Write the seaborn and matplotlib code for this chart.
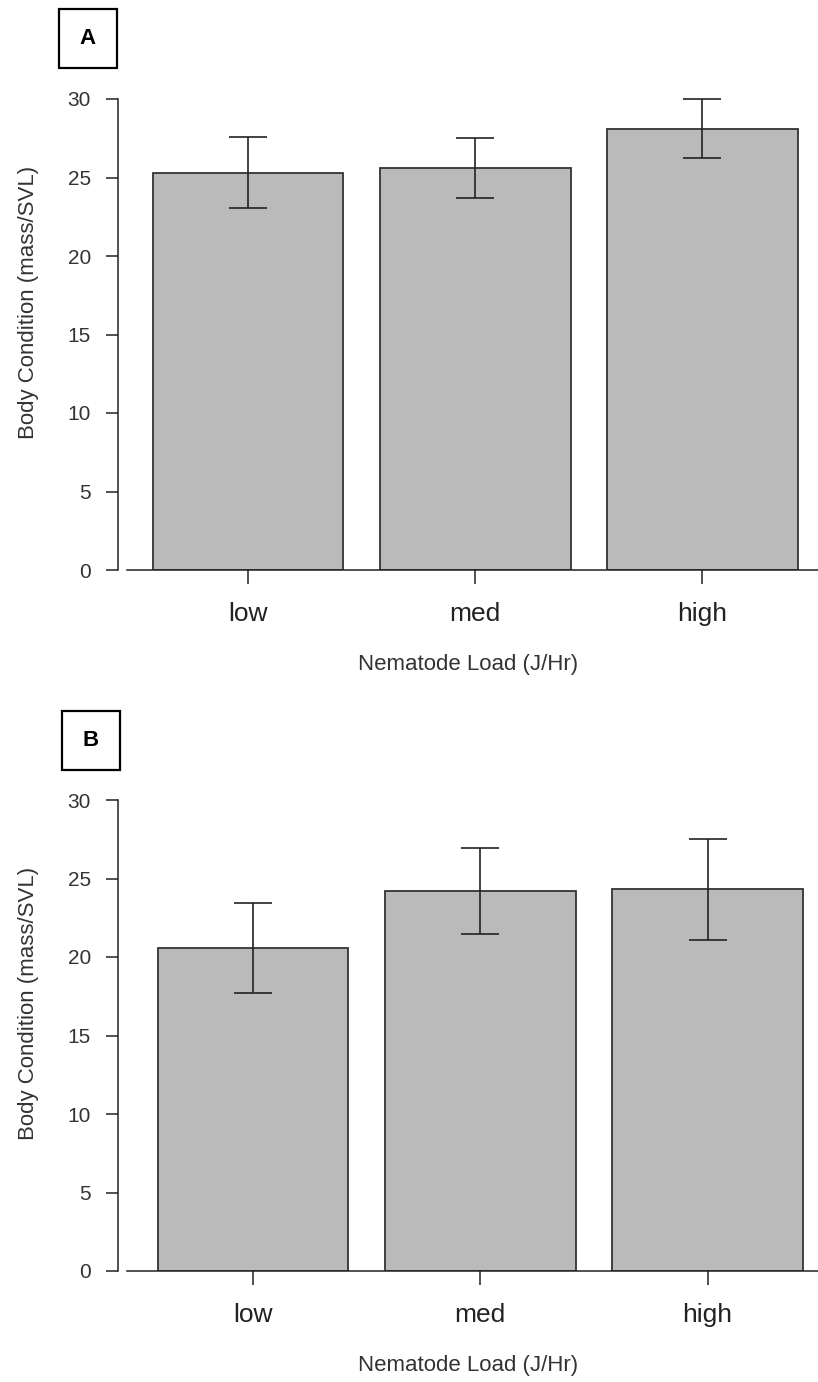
import numpy as np
import pandas as pd
import seaborn as sns
import matplotlib.pyplot as plt
from matplotlib.patches import Rectangle

# values
loads = ["low", "med", "high"]
cond_a = [25.3, 25.6, 28.1]
err_a = [2.27, 1.9, 1.87]
cond_b = [20.6, 24.2, 24.3]
err_b = [2.87, 2.76, 3.2]

sns.set_style("white")
plt.rcParams['font.family'] = ['Liberation Sans', 'DejaVu Sans']

W, H = 818, 1382
fig = plt.figure(figsize=(W / 100, H / 100), dpi=100)


def px_axes(left, top, right, bottom):
    return fig.add_axes([left / W, 1 - bottom / H, (right - left) / W, (bottom - top) / H])


def draw_panel(ax, means, errs, x0, spacing, letter, box):
    df = pd.DataFrame({"Load": loads, "Cond": means})
    sns.barplot(data=df, x="Load", y="Cond", ax=ax, color="#bababa",
                edgecolor="#333333", linewidth=1.3, width=0.84, saturation=1,
                errorbar=None)
    ax.errorbar(np.arange(len(loads)), means, yerr=errs, fmt="none",
                ecolor="#222222", elinewidth=1.2, capsize=14, capthick=1.2,
                clip_on=False, zorder=5)
    # R-style axes
    ax.set_xlim((118 - x0) / spacing, (818 - x0) / spacing)
    ax.set_ylim(0, 30)
    ax.set_yticks([0, 5, 10, 15, 20, 25, 30])
    for s in ["top", "right"]:
        ax.spines[s].set_visible(False)
    ax.spines["left"].set_bounds(0, 30)
    ax.spines["bottom"].set_bounds((127 - x0) / spacing, (818 - x0) / spacing)
    for s in ["left", "bottom"]:
        ax.spines[s].set_color("#222222")
        ax.spines[s].set_linewidth(1.1)
    ax.tick_params(axis="y", direction="out", length=8.5, width=1.1,
                   color="#222222", labelsize=15, pad=11, labelcolor="#333333", left=True)
    ax.tick_params(axis="x", direction="out", length=10, width=1.1,
                   color="#222222", labelsize=19, pad=13, labelcolor="#222222", bottom=True)
    ax.set_xlabel("Nematode Load (J/Hr)", fontsize=16, color="#333333")
    ax.set_ylabel("Body Condition (mass/SVL)", fontsize=16, color="#333333")
    ax.xaxis.set_label_coords(0.5, -0.178)
    ax.yaxis.set_label_coords(-0.113, 0.568)

    bx, by = box
    fig.patches.append(Rectangle((bx / W, 1 - (by + 59) / H), 58 / W, 59 / H,
                                 transform=fig.transFigure, fill=False,
                                 edgecolor="black", linewidth=1.6))
    fig.text((bx + 29) / W, 1 - (by + 30) / H, letter, ha="center", va="center",
             fontsize=16, fontweight="bold", color="black")


ax_a = px_axes(118, 99, 818, 570)
draw_panel(ax_a, cond_a, err_a, 248, 227.25, "A", (59, 9))

ax_b = px_axes(118, 800, 818, 1271)
draw_panel(ax_b, cond_b, err_b, 253, 227.25, "B", (62, 711))

fig.savefig("out.png", dpi=100)
